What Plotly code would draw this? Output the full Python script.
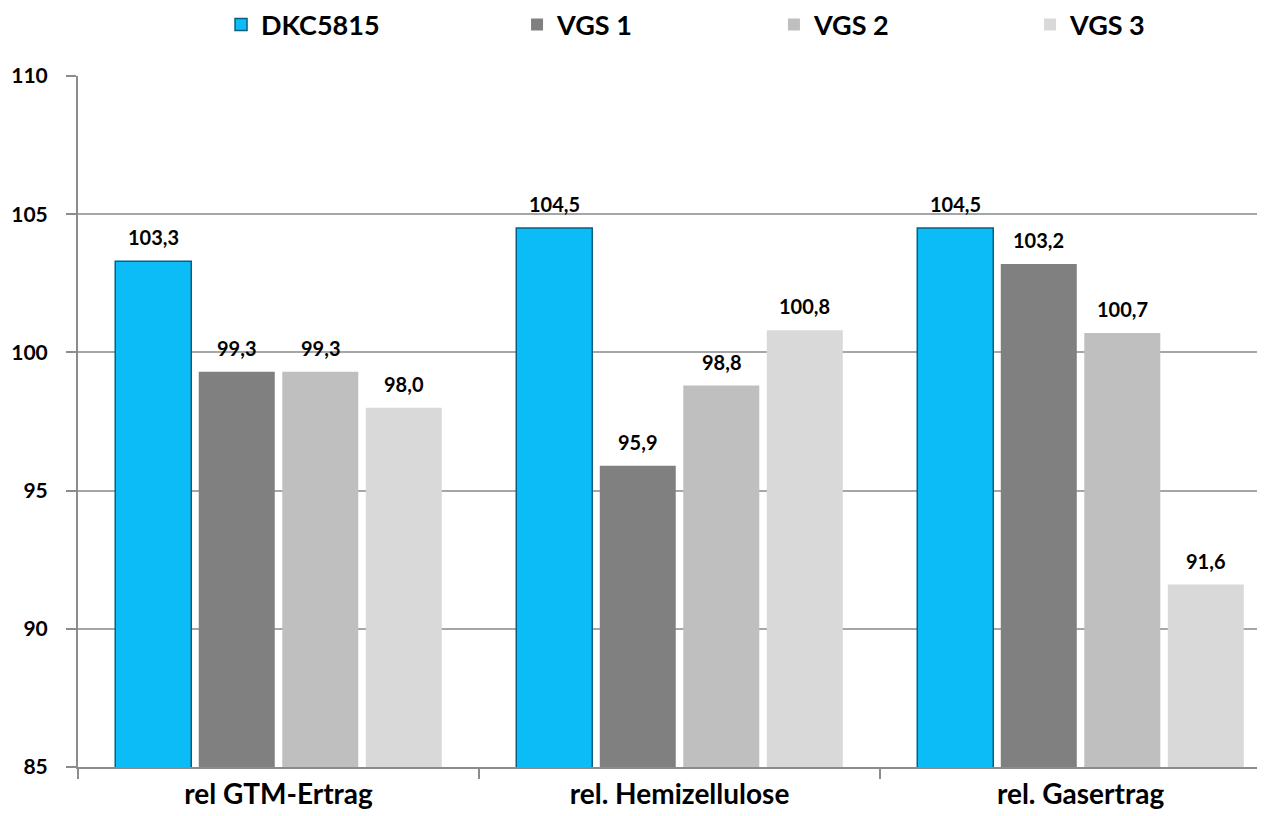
import plotly.graph_objects as go

categories = ["rel GTM-Ertrag", "rel. Hemizellulose", "rel. Gasertrag"]
series_names = ["DKC5815", "VGS 1", "VGS 2", "VGS 3"]
dkc5815 = [103.3, 104.5, 104.5]
vgs1 = [99.3, 95.9, 103.2]
vgs2 = [99.3, 98.8, 100.7]
vgs3 = [98.0, 100.8, 91.6]
y_ticks = [85, 90, 95, 100, 105, 110]

values = [dkc5815, vgs1, vgs2, vgs3]
colors = ["#0BBCF7", "#808080", "#BFBFBF", "#D9D9D9"]
lines = ["#0A5F80", "#808080", "#BFBFBF", "#D9D9D9"]
legend_x = [0.1207, 0.3705, 0.5873, 0.8034]
legend_ids = ["legend", "legend2", "legend3", "legend4"]

FONT = "Lato"
BAR_PITCH = 83.5
fig = go.Figure()
for i, (name, vals, c, lc) in enumerate(zip(series_names, values, colors, lines)):
    fig.add_trace(go.Bar(
        x=categories, y=vals, name=name, legend=legend_ids[i], showlegend=True,
        marker=dict(color=c, line=dict(color=lc, width=1.5 if i == 0 else 0)),
    ))
    for cat, v in zip(categories, vals):
        fig.add_annotation(
            x=cat, y=v, text=f"{v:.1f}".replace(".", ","), showarrow=False,
            xshift=(i - 1.5) * BAR_PITCH, yshift=10, yanchor="bottom",
            font=dict(family=FONT, size=20, color="black", weight="bold"),
        )

leg_common = dict(orientation="h", xanchor="left", y=0.979, yanchor="middle",
                  yref="container", itemwidth=30,
                  font=dict(family=FONT, size=27, color="black", weight="bold"))
legends = {lid: dict(leg_common, x=lx) for lid, lx in zip(legend_ids, legend_x)}

fig.update_layout(
    width=1257, height=808, showlegend=True,
    paper_bgcolor="white", plot_bgcolor="white",
    margin=dict(l=70, r=2, t=68, b=49, autoexpand=False),
    barmode="group", bargap=0.167, bargroupgap=0.09,
    font=dict(family=FONT, color="black"),
    xaxis=dict(range=[-0.5, 2.455], showgrid=False, showline=True, linecolor="#8C8C8C",
               linewidth=2, ticks="outside", ticklen=10, tickcolor="#8C8C8C", tickwidth=2,
               tickson="boundaries", automargin=False, ticklabelstandoff=1,
               tickfont=dict(family=FONT, size=28, color="black", weight="bold")),
    yaxis=dict(range=[85, 110], tickvals=y_ticks, showgrid=True, gridcolor="#A6A6A6",
               gridwidth=1.5, showline=True, linecolor="#8C8C8C", linewidth=2,
               ticks="outside", ticklen=10, tickcolor="#8C8C8C", tickwidth=2, zeroline=False,
               automargin=False, ticklabelstandoff=14,
               tickfont=dict(family=FONT, size=21, color="black", weight="bold")),
    **legends,
)
fig.write_html("out.html")
